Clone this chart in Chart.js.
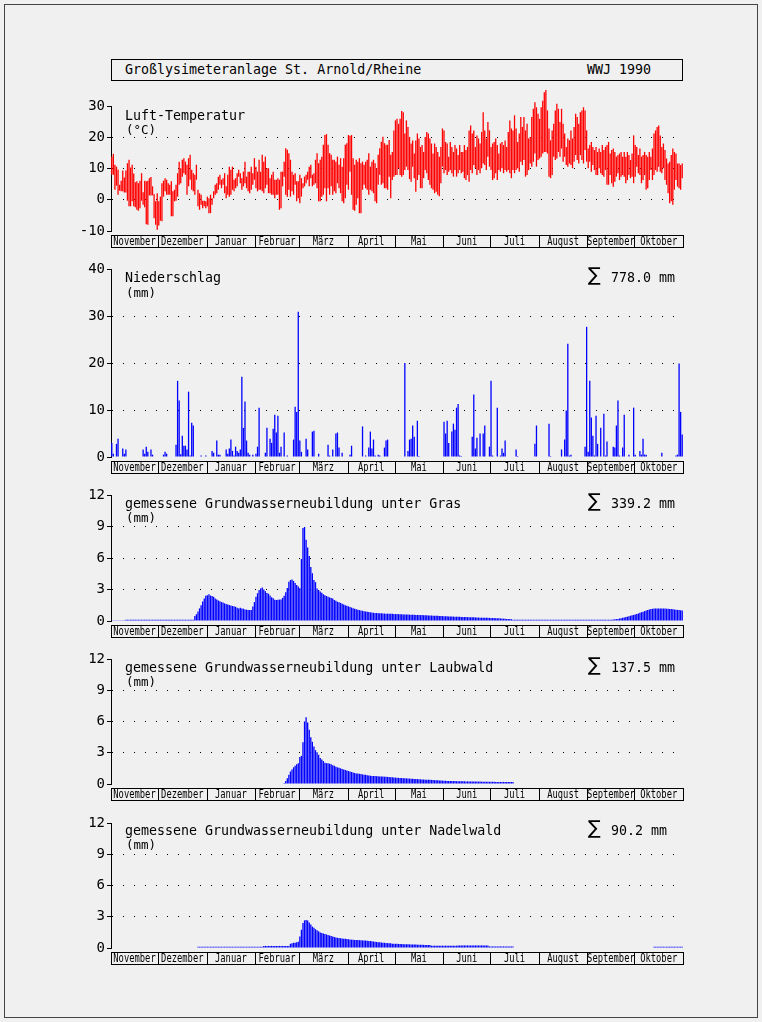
<!DOCTYPE html>
<html>
<head>
<meta charset="utf-8">
<script src="https://cdn.jsdelivr.net/npm/chart.js@4.4.0/dist/chart.umd.min.js"></script>
<style>
  body { margin: 0; background: #f0f0f0; }
  #page { position: relative; width: 762px; height: 1022px; background: #f0f0f0; overflow: hidden; }
  #frame { position: absolute; left: 4px; top: 4px; width: 752px; height: 1012px; border: 1px solid #444; }
  #head { position: absolute; left: 111px; top: 59px; width: 570px; height: 20px; border: 1px solid #000;
          font: 13.3px "DejaVu Sans Mono"; line-height: 20px; color: #000; }
  #head .l { position: absolute; left: 13px; top: 0; }
  #head .r { position: absolute; right: 31px; top: 0; }
  canvas { position: absolute; left: 0; }
</style>
</head>
<body>
<div id="page">
  <div id="frame"></div>
  <div id="head"><span class="l">Großlysimeteranlage St. Arnold/Rheine</span><span class="r">WWJ 1990</span></div>
  <canvas id="cTemp" width="762" height="163" style="top:88px"></canvas>
  <canvas id="cRain" width="762" height="224" style="top:253px"></canvas>
  <canvas id="cGras" width="762" height="162" style="top:479px"></canvas>
  <canvas id="cLaub" width="762" height="161" style="top:643px"></canvas>
  <canvas id="cNadel" width="762" height="162" style="top:806px"></canvas>
</div>
<script>
// Wasserwirtschaftsjahr Nov 1989 - Okt 1990, Tag 0 = 1. November
const monthNames = ['November', 'Dezember', 'Januar', 'Februar', 'März', 'April', 'Mai', 'Juni', 'Juli', 'August', 'September', 'Oktober'];
const monthDays = [30, 31, 31, 28, 31, 30, 31, 30, 31, 31, 30, 31];

// Lufttemperatur, Tagesmaximum / Tagesminimum (°C), eine Zeile je Monat
const tempMax = [
  13.8,14.7,11.2,10.6,9.6,4.8,6.1,9.4,7.1,9.4,11.7,12.8,10.3,11.2,8.4,5.6,5.9,5.3,6.1,8.5,2.4,6.1,5.9,6.1,6.9,7.3,4.3,1.8,-0.5,2.1,
  -0.5,1.0,5.3,6.1,6.9,6.4,5.3,4.8,5.9,2.7,3.2,4.8,8.5,12.2,10.1,12.8,13.3,12.2,11.2,13.3,14.4,9.6,8.5,8.0,11.2,3.2,2.1,1.6,-0.3,-0.3,-0.5,
  1.0,0.5,1.6,0.5,2.7,4.8,5.3,7.4,8.0,6.4,6.9,8.5,4.3,8.0,10.6,9.6,10.6,6.4,6.9,8.5,9.6,8.5,6.9,9.0,12.2,7.4,9.0,9.0,10.6,8.5,13.3,
  10.6,9.0,12.8,9.0,14.4,12.2,13.8,10.1,10.1,6.9,8.0,9.0,6.4,6.4,6.9,6.4,9.0,9.0,12.2,16.5,16.0,14.9,12.8,9.0,8.0,8.5,5.9,5.9,
  8.0,6.9,5.3,7.4,8.0,9.0,10.6,11.2,8.0,8.5,12.8,14.9,11.7,12.8,13.8,17.6,20.7,21.0,17.6,14.9,14.4,12.8,12.8,12.2,13.8,11.2,13.3,10.6,13.3,17.6,18.1,
  20.7,20.5,20.7,13.3,11.2,12.8,12.2,13.3,11.7,12.2,11.2,12.2,12.8,14.9,10.6,12.2,12.8,11.7,10.1,14.4,16.5,18.6,20.2,18.1,17.6,17.6,19.1,14.4,15.3,22.2,
  25.4,25.9,24.3,25.9,28.4,28.0,21.2,25.4,23.3,20.1,18.0,19.0,14.8,19.0,21.2,19.6,16.9,17.5,15.3,20.1,21.7,21.2,19.6,18.0,14.8,18.0,16.9,15.3,13.8,16.9,22.8,
  22.2,18.5,18.0,13.8,18.5,16.9,15.3,17.5,16.4,14.3,17.5,15.3,15.3,17.5,15.9,16.9,22.2,23.8,21.2,22.2,16.9,20.6,19.6,18.0,21.7,28.0,22.2,19.6,24.9,22.2,
  16.9,18.0,18.5,19.6,17.5,14.8,18.0,18.5,17.5,19.0,16.9,21.7,25.4,22.8,22.2,27.0,22.8,18.5,21.2,26.5,23.3,26.5,22.2,24.3,19.6,20.1,26.5,29.1,31.2,29.6,27.5,
  25.9,29.6,31.7,34.4,35.1,28.6,22.8,19.0,22.2,24.3,28.6,30.7,29.1,24.9,29.1,24.3,21.2,16.9,19.6,19.0,22.2,19.6,23.3,27.5,26.5,24.3,28.0,28.6,29.6,28.6,22.2,
  16.4,17.5,18.5,16.9,15.9,16.9,15.3,16.4,15.3,17.5,15.9,16.9,17.5,18.5,14.8,15.9,16.4,15.3,13.8,14.3,14.8,15.3,13.8,15.3,13.8,15.3,14.3,12.7,14.8,20.6,
  17.5,16.9,14.3,16.4,13.8,14.3,15.3,14.3,13.8,15.3,13.8,16.4,21.2,22.2,23.3,23.8,20.6,16.9,18.0,15.9,13.2,11.6,12.2,14.3,16.4,15.3,14.8,11.6,11.6,11.1,11.6
];
const tempMin = [
  8.0,8.0,3.2,4.5,1.6,2.9,2.7,2.7,2.3,2.3,-0.3,-2.1,-2.1,-0.5,-2.1,-2.4,-3.2,-3.5,-2.7,-0.3,-1.6,-2.4,-7.8,-8.0,1.4,1.4,1.4,-5.9,-8.0,-9.6,
  -8.2,-6.7,-6.9,1.0,2.7,1.6,1.6,1.6,-5.3,-5.3,-0.5,-0.3,1.0,4.8,5.3,7.4,8.5,8.0,1.6,4.3,6.4,3.2,2.7,1.6,6.4,-2.1,-3.2,-1.6,-2.7,-2.1,-2.7,
  -2.1,-4.3,-4.3,-1.6,0.5,1.6,2.1,3.2,4.8,3.7,4.8,2.1,0.5,1.6,1.0,1.6,3.2,2.7,3.7,4.3,7.4,5.3,3.2,4.3,5.3,3.7,2.7,2.1,3.2,4.8,6.4,
  3.7,2.7,3.2,3.2,2.7,2.1,3.7,4.8,2.1,2.1,1.6,1.6,0.5,1.6,1.6,-3.2,-2.7,4.3,7.4,1.6,1.0,3.2,1.0,2.7,1.6,4.8,-0.5,0.5,
  -1.1,1.0,3.7,4.3,5.3,6.4,4.3,6.9,4.3,4.8,5.3,3.7,-0.5,-0.5,1.0,1.6,3.7,-0.5,3.7,1.6,4.3,1.6,2.7,2.1,5.3,3.7,2.1,-0.5,-1.1,0.5,4.8,
  3.2,9.0,1.6,-3.2,-3.5,-1.6,0.5,-4.3,-4.3,3.2,4.8,3.7,3.2,1.6,3.2,2.7,2.1,-0.5,-1.1,4.8,8.0,4.8,5.3,3.7,3.7,3.2,7.4,0.5,6.3,7.4,
  7.9,7.9,10.1,7.9,7.4,7.9,9.5,10.6,9.5,6.6,5.8,10.6,6.9,2.6,6.3,7.9,3.7,3.7,6.9,9.5,8.5,6.3,4.8,3.7,3.2,2.1,2.6,1.6,1.1,5.3,10.6,
  8.5,9.5,7.9,9.0,9.5,8.5,7.4,9.5,7.4,8.5,9.5,8.5,9.0,6.9,6.3,7.9,5.8,9.5,8.5,11.1,10.1,7.9,9.5,8.5,10.1,11.6,11.1,9.5,13.8,10.6,
  9.5,6.3,6.9,8.5,6.3,9.5,9.0,10.1,8.5,9.5,9.0,9.5,8.5,6.9,9.5,8.5,9.5,10.1,9.0,12.2,11.1,12.7,7.4,7.9,9.5,11.6,10.6,12.2,14.8,10.6,12.7,
  13.2,13.8,14.8,15.3,15.3,14.8,7.4,6.9,7.9,13.8,12.7,13.2,15.3,13.8,16.4,12.2,13.8,11.1,10.6,11.6,11.1,10.1,12.2,14.3,12.7,11.6,14.3,12.7,11.6,15.9,12.2,
  10.1,12.2,9.0,11.1,9.5,7.9,7.9,10.1,8.5,7.9,7.4,9.5,4.8,4.8,7.9,5.3,4.2,5.8,7.4,8.5,6.3,7.4,7.9,7.4,5.3,6.3,7.9,6.9,7.4,5.3,
  7.4,10.6,8.5,7.9,5.3,6.3,7.9,3.2,3.7,6.3,9.5,6.3,7.9,9.5,9.0,10.6,9.0,8.5,10.1,6.3,4.8,2.1,-1.1,-0.5,-1.6,3.2,6.3,4.2,3.7,3.2,6.9
];

// Niederschlag: nur Tage mit Regen (Tag, mm)
const rainDay = [
  0,1,3,4,7,8,9,20,21,22,23,25,26,
  33,34,35,41,42,43,44,45,46,47,48,49,50,51,52,57,60,
  64,65,67,68,69,73,74,75,76,77,78,79,80,81,82,83,84,85,86,87,88,90,
  92,93,94,98,99,101,102,103,104,105,106,107,108,110,112,116,117,118,119,
  120,121,124,125,128,129,132,138,139,141,143,144,145,147,
  152,153,160,162,164,165,166,167,168,170,171,174,175,176,
  187,189,190,191,192,193,195,196,
  212,213,214,215,217,218,219,220,221,222,223,230,231,232,233,235,237,238,241,
  242,243,246,248,249,250,251,258,259,270,271,
  279,280,287,289,290,291,292,293,302,303,
  304,305,306,307,308,309,310,312,314,315,316,320,321,322,323,324,326,327,330,333,
  334,337,338,339,340,341,351,360,361,362,363,364
];
const rainMm = [
  3.0,0.7,2.8,3.9,1.8,0.7,1.6,1.6,0.7,2.2,1.1,1.6,0.5,
  0.5,1.1,0.7,2.6,16.2,12.0,0.6,4.5,2.4,2.4,1.6,13.9,0.3,7.3,6.7,0.3,0.3,
  1.3,0.9,3.5,0.5,0.5,1.6,0.7,1.8,3.7,1.3,0.3,2.2,1.3,0.9,1.6,17.1,6.2,11.8,3.5,0.9,0.5,0.5,
  0.7,2.2,10.5,0.9,6.2,3.9,3.0,6.0,9.0,5.2,8.8,0.9,2.2,5.2,0.3,3.7,10.7,9.6,30.9,
  3.5,1.1,3.9,1.6,5.4,5.6,0.7,2.6,0.3,1.6,5.0,5.2,2.0,0.9,
  0.5,2.4,6.5,0.3,2.0,5.4,1.8,3.7,0.3,0.5,0.3,2.0,3.5,3.7,
  20.0,1.3,3.7,3.9,6.7,4.3,7.7,0.2,
  7.5,5.0,7.7,3.0,5.4,7.1,5.8,10.5,11.3,0.3,0.2,4.3,13.3,1.8,4.1,5.0,5.0,6.7,2.2,
  16.2,0.3,10.5,0.3,1.8,0.9,3.5,1.6,0.2,2.8,6.7,
  7.1,0.2,1.6,3.7,9.9,24.1,0.3,0.5,2.2,27.7,
  1.1,16.2,8.4,4.5,0.3,8.8,2.8,6.2,9.2,0.3,3.3,2.2,2.0,6.7,12.0,0.3,2.0,9.0,0.5,10.5,
  0.5,1.3,0.5,3.9,0.5,0.5,0.9,0.3,0.5,19.9,9.6,4.8
];

// Grundwasserneubildung unter Gras (mm/Tag), ab Tag 0
const grasMm = [
  0.03,0.03,0.03,0.03,0.03,0.03,0.03,0.03,0.03,
  0.12,0.12,0.12,0.12,0.12,0.12,0.12,0.12,0.12,0.12,0.12,0.12,0.12,0.12,0.12,0.12,0.12,0.12,0.12,0.12,0.12,0.12,
  0.12,0.12,0.12,0.12,0.12,0.12,0.12,0.12,0.12,0.12,0.12,0.12,0.12,0.12,0.12,0.12,0.12,0.12,0.12,0.12,0.12,0.12,
  0.47,0.65,0.9,1.2,1.5,1.85,2.15,2.4,2.45,2.55,
  2.42,2.38,2.3,2.15,2.05,1.95,1.88,1.8,1.77,1.68,
  1.62,1.56,1.52,1.47,1.43,1.4,1.35,1.26,1.2,1.26,
  1.2,1.17,1.1,1.08,1.05,1.04,1.04,1.38,1.8,2.3,
  2.65,2.95,3.1,3.2,3.0,2.84,2.67,2.6,2.42,2.26,
  2.17,2.03,2.0,2.02,2.04,2.05,2.2,2.4,2.75,3.15,
  3.75,3.9,3.95,3.82,3.62,3.42,3.28,3.12,5.9,8.85,
  8.95,7.75,7.0,6.2,5.15,4.55,3.9,3.7,3.1,2.95,
  2.8,2.7,2.55,2.45,2.38,2.32,2.25,2.2,2.15,2.0,
  1.92,1.83,1.78,1.72,1.65,1.58,1.5,1.45,1.4,1.34,
  1.28,1.22,1.16,1.12,1.08,1.04,1.0,0.97,0.94,0.91,0.88,0.85,
  0.82,0.8,0.78,0.77,0.76,0.75,0.74,0.73,0.72,0.71,0.7,0.7,0.69,
  0.68,0.68,0.67,0.66,0.66,0.65,0.64,0.64,0.63,0.62,0.62,0.61,0.6,0.6,0.6,
  0.59,0.58,0.58,0.57,0.56,0.56,0.55,0.54,0.54,0.53,0.52,0.52,0.51,0.5,0.5,0.49,0.48,0.48,0.47,0.46,
  0.45,0.45,0.44,0.43,0.43,0.42,0.41,0.41,0.4,0.4,0.39,0.38,0.38,0.37,0.37,0.36,0.36,0.35,0.35,0.34,0.34,0.33,
  0.32,0.32,0.31,0.31,0.3,0.3,0.29,0.29,0.28,0.28,0.27,0.27,0.26,
  0.24,0.23,0.22,0.21,0.2,0.19,0.18,0.17,
  0.12,0.12,0.12,0.12,0.12,0.12,0.12,0.12,0.12,0.12,0.12,0.12,0.12,0.12,0.12,0.12,
  0.12,0.12,0.12,0.12,0.12,0.12,0.12,0.12,0.12,0.12,0.12,0.12,0.12,0.12,0.12,0.12,
  0.12,0.12,0.12,0.12,0.12,0.12,0.12,0.12,0.12,0.12,0.12,0.12,0.12,0.12,0.12,0.12,
  0.12,0.12,0.12,0.12,0.12,0.12,0.12,0.12,0.12,0.12,0.12,0.12,0.12,0.12,0.12,0.12,
  0.14,0.16,0.18,0.2,0.24,0.27,0.3,0.33,0.37,0.41,
  0.45,0.5,0.54,0.58,0.62,0.66,0.72,0.78,0.84,0.88,
  0.94,1.0,1.05,1.1,1.14,1.16,1.18,1.19,1.2,1.2,1.2,
  1.2,1.19,1.18,1.17,1.16,1.15,1.14,1.12,1.1,1.08,1.06,1.04,1.02,1.0
];

// unter Laubwald, ab Tag 110
const laubStart = 110;
const laubMm = [
  0.1,0.3,0.55,0.9,1.2,1.4,1.6,1.75,1.9,2.0,
  2.6,2.7,4.0,6.0,6.4,5.9,5.2,4.5,4.05,3.6,
  3.25,3.05,2.8,2.5,2.35,2.2,2.05,2.0,2.0,1.95,
  1.9,1.8,1.75,1.65,1.6,1.55,1.5,1.45,1.4,1.35,
  1.3,1.25,1.2,1.15,1.1,1.05,1.02,1.0,0.98,0.95,
  0.92,0.9,0.88,0.85,0.82,0.8,
  0.78,0.77,0.76,0.75,0.74,0.73,0.72,0.71,0.7,0.69,0.68,0.67,0.66,
  0.64,0.62,0.61,0.6,0.59,0.58,0.57,0.56,0.55,0.54,0.53,0.52,0.51,
  0.5,0.49,0.48,0.47,0.46,0.45,0.44,0.43,0.42,0.41,0.4,0.4,0.39,
  0.38,0.37,0.36,0.35,0.34,0.33,0.32,0.32,0.31,0.3,0.3,0.29,0.29,
  0.28,0.28,0.27,0.27,0.27,0.26,0.26,0.26,0.25,0.25,0.25,0.24,0.24,0.24,0.23,0.23,0.23,0.23,0.22,0.22,
  0.22,0.22,0.21,0.21,0.21,0.21,0.21,0.2,0.2,0.2,0.2,0.2,0.2,0.19,0.19,0.19,0.19,0.19,0.19
];

// unter Nadelwald, ab Tag 55, dazu Oktober ab Tag 346
const nadelStart = 55;
const nadelMm = [
  0.12,0.12,0.12,0.12,0.12,0.12,0.12,0.12,0.12,0.12,0.12,0.12,0.12,0.12,0.12,0.12,0.12,0.12,0.12,0.12,0.12,
  0.12,0.12,0.12,0.12,0.12,0.12,0.12,0.12,0.12,0.12,0.12,0.12,0.12,0.12,0.12,0.12,0.12,0.12,0.12,0.12,0.12,
  0.2,0.2,0.2,0.2,0.2,0.2,0.2,0.2,0.2,0.2,0.2,0.2,0.2,0.2,0.2,0.2,0.2,
  0.4,0.45,0.5,0.5,0.55,0.6,
  1.1,1.75,2.4,2.65,2.7,2.65,2.45,2.25,2.05,1.95,1.8,1.7,1.6,1.5,1.45,1.4,1.35,1.3,1.25,1.2,1.15,1.1,1.05,1.0,0.98,
  0.96,0.94,0.92,0.9,0.88,0.86,0.84,0.82,0.8,
  0.79,0.78,0.77,0.76,0.75,0.74,0.73,0.72,0.71,0.7,0.68,0.67,0.65,
  0.62,0.6,0.58,0.56,0.55,0.53,0.51,0.5,0.49,0.47,0.46,0.45,
  0.42,0.41,0.4,0.4,0.39,0.38,0.38,0.37,0.36,0.36,0.35,0.35,0.34,0.34,0.33,0.33,0.32,0.32,0.31,0.31,0.3,0.3,0.3,0.29,0.29,
  0.22,0.22,0.22,0.22,0.22,0.22,0.22,0.22,0.22,0.22,0.22,0.22,0.22,0.22,0.22,0.22,0.22,
  0.25,0.25,0.25,0.25,0.25,0.25,0.25,0.25,0.25,0.25,0.25,0.25,0.25,0.25,0.25,0.25,0.25,0.25,0.25,0.25,
  0.15,0.15,0.15,0.15,0.15,0.15,0.15,0.15,0.15,0.15,0.15,0.15,0.15,0.15,0.15,0.15
];
const nadelOktStart = 346;
const nadelOktMm = [0.12,0.12,0.12,0.12,0.12,0.12,0.12,0.12,0.12,0.12,0.12,0.12,0.12,0.12,0.12,0.12,0.12,0.12,0.12];

const FONT = '"DejaVu Sans Mono", monospace';

// Monatsleiste, Titel, Einheit und Summe
const panelDecor = {
  id: 'panelDecor',
  afterDraw(chart, args, opts) {
    const { ctx, chartArea: a, scales: { x } } = chart;
    ctx.save();
    const top = Math.round(a.bottom) + 4, h = 12;
    const left = Math.round(a.left), right = Math.round(a.right);
    ctx.strokeStyle = '#000';
    ctx.lineWidth = 1;
    ctx.strokeRect(left + 0.5, top + 0.5, right - left, h);
    ctx.fillStyle = '#000';
    ctx.font = '8.8px ' + FONT;
    ctx.textAlign = 'center';
    ctx.textBaseline = 'alphabetic';
    let start = 0;
    monthDays.forEach((n, i) => {
      const x0 = x.getPixelForValue(start - 0.5);
      const x1 = x.getPixelForValue(start + n - 0.5);
      if (i > 0) {
        ctx.beginPath();
        ctx.moveTo(Math.round(x0) + 0.5, top);
        ctx.lineTo(Math.round(x0) + 0.5, top + h);
        ctx.stroke();
      }
      ctx.save();
      ctx.translate((x0 + x1) / 2, top + h - 2);
      ctx.scale(1, 1.35);
      ctx.fillText(monthNames[i], 0, 0);
      ctx.restore();
      start += n;
    });

    ctx.textAlign = 'left';
    ctx.font = '13.3px ' + FONT;
    const base = a.top + opts.dy;
    ctx.fillText(opts.title, 125, base);
    ctx.font = '12.5px ' + FONT;
    ctx.fillText(opts.unit, 126, base + opts.unitDy);
    if (opts.sum) {
      ctx.font = '19px "DejaVu Sans"';
      ctx.fillText('\u2211', 588, base - 1);
      ctx.font = '13.3px ' + FONT;
      ctx.fillText(opts.sum, 611, base);
    }
    ctx.restore();
  }
};

function panel(id, cfg) {
  return new Chart(document.getElementById(id), {
    type: 'bar',
    data: { datasets: cfg.datasets },
    options: {
      responsive: false,
      animation: false,
      devicePixelRatio: 1,
      layout: { padding: { left: 71, right: 79, top: cfg.padTop, bottom: 20 } },
      plugins: {
        legend: { display: false },
        tooltip: { enabled: false },
        panelDecor: cfg.decor
      },
      scales: {
        x: { type: 'linear', display: false, min: -0.5, max: 364.5, offset: false },
        y: {
          min: cfg.min,
          max: cfg.max,
          afterFit: s => { s.width = 40; },
          ticks: { stepSize: cfg.step, color: '#000', padding: 2, font: { family: 'DejaVu Sans Mono', size: 14 } },
          grid: {
            color: c => cfg.dotted.includes(c.tick.value) ? '#000' : 'rgba(0,0,0,0)',
            tickColor: '#000',
            tickLength: 4,
            lineWidth: 1
          },
          border: { display: true, color: '#000', width: 1, dash: [1, 10] }
        }
      }
    },
    plugins: [panelDecor]
  });
}

function blueBars(points) {
  return { data: points, backgroundColor: '#0000ff', barThickness: 1.3, inflateAmount: 0, borderWidth: 0, grouped: false };
}

panel('cTemp', {
  padTop: 18, min: -10, max: 30, step: 10, dotted: [0, 10, 20],
  decor: { title: 'Luft-Temperatur', unit: '(°C)', dy: 14, unitDy: 14, sum: null },
  datasets: [{
    data: tempMax.map((v, i) => ({ x: i, y: [tempMin[i], v] })),
    backgroundColor: '#ff0000', barThickness: 1.3, inflateAmount: 0, borderWidth: 0, grouped: false,
    clip: false
  }]
});

panel('cRain', {
  padTop: 16, min: 0, max: 40, step: 10, dotted: [10, 20, 30],
  decor: { title: 'Niederschlag', unit: '(mm)', dy: 13, unitDy: 15, sum: '778.0 mm' },
  datasets: [blueBars(rainDay.map((d, i) => ({ x: d, y: rainMm[i] })))]
});

panel('cGras', {
  padTop: 16, min: 0, max: 12, step: 3, dotted: [3, 6, 9],
  decor: { title: 'gemessene Grundwasserneubildung unter Gras', unit: '(mm)', dy: 13, unitDy: 14, sum: '339.2 mm' },
  datasets: [blueBars(grasMm.map((v, i) => ({ x: i, y: v })))]
});

panel('cLaub', {
  padTop: 16, min: 0, max: 12, step: 3, dotted: [3, 6, 9],
  decor: { title: 'gemessene Grundwasserneubildung unter Laubwald', unit: '(mm)', dy: 13, unitDy: 14, sum: '137.5 mm' },
  datasets: [blueBars(laubMm.map((v, i) => ({ x: laubStart + i, y: v })))]
});

panel('cNadel', {
  padTop: 17, min: 0, max: 12, step: 3, dotted: [3, 6, 9],
  decor: { title: 'gemessene Grundwasserneubildung unter Nadelwald', unit: '(mm)', dy: 12, unitDy: 14, sum: '90.2 mm' },
  datasets: [blueBars(nadelMm.map((v, i) => ({ x: nadelStart + i, y: v }))
    .concat(nadelOktMm.map((v, i) => ({ x: nadelOktStart + i, y: v }))))]
});
</script>
</body>
</html>
